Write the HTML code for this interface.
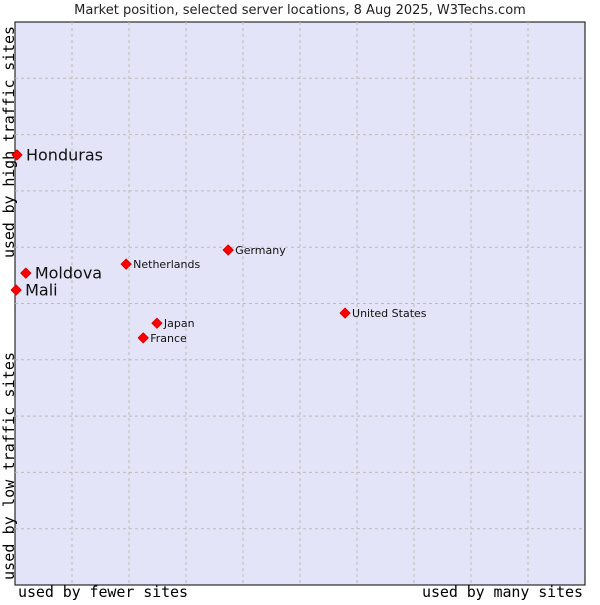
<!DOCTYPE html>
<html><head><meta charset="utf-8"><style>
body{margin:0;background:#fff;width:600px;height:600px;overflow:hidden}
svg text{font-family:"DejaVu Sans",sans-serif}
.mono{font-family:"DejaVu Sans Mono","Liberation Mono",monospace}
</style></head><body>
<svg id="c" width="600" height="600">
<rect x="15" y="22" width="570" height="563" fill="#e3e4f8" stroke="#000" stroke-width="1"/>
<g id="grid"></g>
<g id="pts"></g>
<text x="300" y="14" text-anchor="middle" font-size="13" fill="#222">Market position, selected server locations, 8 Aug 2025, W3Techs.com</text>
<text class="mono" x="18" y="597" font-size="15" textLength="170" fill="#000">used by fewer sites</text>
<text class="mono" x="422" y="597" font-size="15" textLength="161" fill="#000">used by many sites</text>
<text class="mono" transform="translate(14,580) rotate(-90)" font-size="15" textLength="228" fill="#000">used by low traffic sites</text>
<text class="mono" transform="translate(14,258) rotate(-90)" font-size="15" textLength="232" fill="#000">used by high traffic sites</text>
</svg>
<script>
const names=["Honduras","Moldova","Mali","Netherlands","Germany","United States","Japan","France"];
const xs=[0.35,1.9,0.2,19.5,37.4,57.9,24.9,22.5];
const ys=[76.4,55.4,52.4,57.0,59.5,48.3,46.5,43.9];
const big=[true,true,true,false,false,false,false,false];
const L=15,T=22,W=570,H=563;
const sx=v=>L+v/100*W, sy=v=>T+H-v/100*H;
const NS="http://www.w3.org/2000/svg";
const g=document.getElementById('grid');
for(let i=1;i<10;i++){
 let l=document.createElementNS(NS,'line');
 l.setAttribute('x1',sx(i*10));l.setAttribute('x2',sx(i*10));l.setAttribute('y1',T);l.setAttribute('y2',T+H);
 l.setAttribute('stroke','#bbb');l.setAttribute('stroke-dasharray','3,3');
 
 
 g.appendChild(l);
 let h=document.createElementNS(NS,'line');
 h.setAttribute('y1',sy(i*10));h.setAttribute('y2',sy(i*10));h.setAttribute('x1',L);h.setAttribute('x2',L+W);
 h.setAttribute('stroke','#bbb');h.setAttribute('stroke-dasharray','3,3');
 
 
 g.appendChild(h);
}
const p=document.getElementById('pts');
names.forEach((n,i)=>{
 const x=sx(xs[i]),y=sy(ys[i]);
 let m=document.createElementNS(NS,'path');
 m.setAttribute('d',`M${x-5},${y}L${x},${y-5}L${x+5},${y}L${x},${y+5}Z`);
 m.setAttribute('fill','#f00');m.setAttribute('stroke','#d00');m.setAttribute('stroke-width','1');m.setAttribute('stroke-linejoin','round');
 
 
 p.appendChild(m);
 let t=document.createElementNS(NS,'text');
 t.setAttribute('x',x+(big[i]?9:7));t.setAttribute('y',y+(big[i]?5.5:4));
 t.setAttribute('font-size',big[i]?16:11);t.setAttribute('fill','#111');
 t.textContent=n;
 
 
 p.appendChild(t);
});
</script>
</body></html>
